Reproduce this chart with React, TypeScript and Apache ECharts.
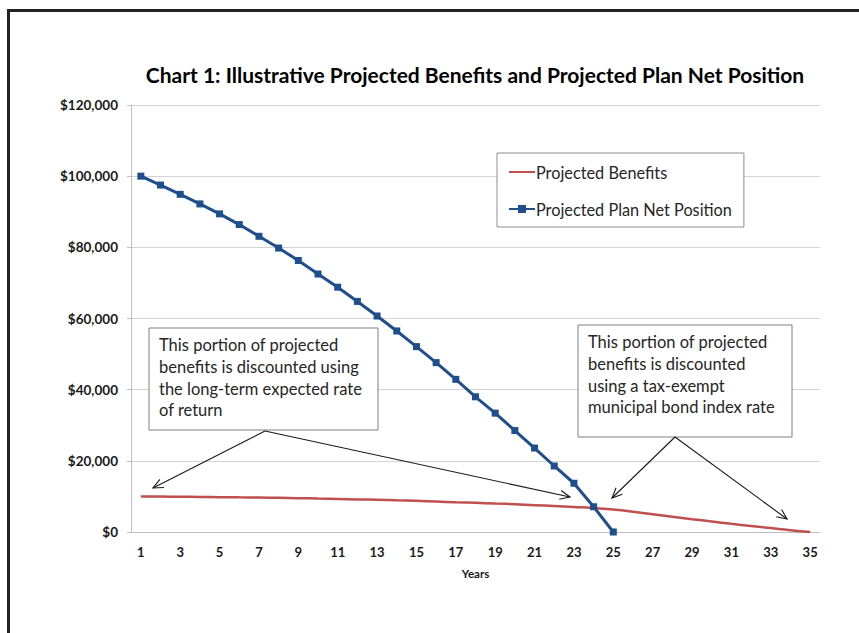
import React, { useEffect, useRef } from "react";
import * as echarts from "echarts";

const years: string[] = Array.from({ length: 35 }, (_, i) => String(i + 1));

const projectedBenefits: number[] = [
  9950, 9950, 9900, 9850, 9800, 9750, 9700, 9600, 9500, 9400,
  9300, 9150, 9050, 8900, 8750, 8550, 8350, 8200, 8000, 7800,
  7550, 7300, 7050, 6750, 6300, 5700, 5000, 4300, 3600, 2950,
  2300, 1700, 1100, 500, 0,
];

const projectedNetPosition: number[] = [
  100000, 97500, 94900, 92200, 89400, 86400, 83100, 79800, 76300, 72500,
  68800, 64800, 60700, 56500, 52100, 47600, 42900, 38000, 33400, 28500,
  23600, 18550, 13700, 7100, 0,
];

const seriesNames: string[] = ["Projected Benefits", "Projected Plan Net Position"];
const titleText = "Chart 1: Illustrative Projected Benefits and Projected Plan Net Position";
const noteLeft: string[] = [
  "This portion of projected",
  "benefits is discounted using",
  "the long-term expected rate",
  "of return",
];
const noteRight: string[] = [
  "This portion of projected",
  "benefits is discounted",
  "using a tax-exempt",
  "municipal bond index rate",
];

const FONT = "Lato, 'Liberation Sans', sans-serif";

function arrow(x1: number, y1: number, x2: number, y2: number): any[] {
  const ang = Math.atan2(y2 - y1, x2 - x1);
  const L = 11;
  const spread = 0.42;
  const p1 = [x2 - L * Math.cos(ang - spread), y2 - L * Math.sin(ang - spread)];
  const p2 = [x2 - L * Math.cos(ang + spread), y2 - L * Math.sin(ang + spread)];
  const st = { stroke: "#1a1a1a", lineWidth: 1.1, fill: "none" };
  return [
    { type: "line", shape: { x1, y1, x2, y2 }, style: st, z: 50 },
    { type: "polyline", shape: { points: [p1, [x2, y2], p2] }, style: st, z: 50 },
  ];
}

function note(x: number, y: number, w: number, h: number, lines: string[]): any[] {
  return [
    {
      type: "rect",
      shape: { x, y, width: w, height: h },
      style: { fill: "#ffffff", stroke: "#7f7f7f", lineWidth: 1 },
      z: 40,
    },
    {
      type: "text",
      x: x + 10,
      y: y + 6,
      z: 41,
      style: {
        text: lines.join("\n"),
        font: `16.5px ${FONT}`,
        fill: "#262626",
        lineHeight: 21.8,
      },
    },
  ];
}

export default function App() {
  const ref = useRef<HTMLDivElement>(null);
  useEffect(() => {
    if (!ref.current) return;
    const chart = echarts.init(ref.current, undefined, { renderer: "svg" });
    chart.setOption({
      animation: false,
      backgroundColor: "#ffffff",
      title: {
        text: titleText,
        left: 470,
        textAlign: "center",
        top: 59,
        textStyle: { fontFamily: FONT, fontSize: 21, fontWeight: "bold", color: "#000" },
      },
      legend: {
        left: 497,
        top: 153,
        orient: "vertical",
        backgroundColor: "#ffffff",
        borderColor: "#8c8c8c",
        borderWidth: 1,
        padding: [11, 12, 10, 11],
        itemGap: 21,
        itemWidth: 26,
        itemHeight: 10,
        data: [
          { name: seriesNames[0], itemStyle: { opacity: 0 } },
          { name: seriesNames[1] },
        ],
        textStyle: { fontFamily: FONT, fontSize: 16.3, color: "#262626", padding: [0, 0, 0, -4] },
        z: 30,
      },
      grid: { left: 131, right: 39, top: 105, bottom: 101, containLabel: false },
      xAxis: {
        type: "category",
        data: years,
        boundaryGap: true,
        name: "Years",
        nameLocation: "middle",
        nameGap: 35,
        nameTextStyle: { fontFamily: FONT, fontSize: 11.5, fontWeight: "bold", color: "#1a1a1a" },
        axisLine: { lineStyle: { color: "#bfbfbf", width: 1 } },
        axisTick: { show: false },
        axisLabel: {
          interval: 1,
          margin: 13,
          fontFamily: FONT,
          fontSize: 13,
          fontWeight: "bold",
          color: "#1a1a1a",
        },
      },
      yAxis: {
        type: "value",
        min: 0,
        max: 120000,
        interval: 20000,
        axisLine: { show: true, lineStyle: { color: "#bfbfbf", width: 1 } },
        axisTick: { show: true, length: 4, lineStyle: { color: "#bfbfbf" } },
        splitLine: { lineStyle: { color: "#d4d4d4", width: 1 } },
        axisLabel: {
          margin: 13,
          fontFamily: FONT,
          fontSize: 13.5,
          fontWeight: "bold",
          color: "#1a1a1a",
          formatter: (v: number) => "$" + v.toLocaleString("en-US"),
        },
      },
      series: [
        {
          name: seriesNames[0],
          type: "line",
          data: projectedBenefits,
          smooth: true,
          symbol: "none",
          lineStyle: { color: "#c0504d", width: 2.5 },
          itemStyle: { color: "#c0504d" },
          z: 3,
        },
        {
          name: seriesNames[1],
          type: "line",
          data: projectedNetPosition,
          symbol: "rect",
          symbolSize: 7,
          lineStyle: { color: "#1f4e8c", width: 3 },
          itemStyle: { color: "#1f4e8c" },
          z: 4,
        },
      ],
      graphic: [
        { type: "line", shape: { x1: 8.5, y1: 10, x2: 8.5, y2: 633 }, style: { stroke: "#222", lineWidth: 3 }, z: 60 },
        { type: "line", shape: { x1: 7, y1: 10.5, x2: 859, y2: 10.5 }, style: { stroke: "#222", lineWidth: 3 }, z: 60 },
        ...note(149, 328, 229, 102, noteLeft),
        ...note(578, 325, 214, 112, noteRight),
        ...arrow(265, 431, 153, 488),
        ...arrow(265, 431, 570, 497),
        ...arrow(675, 437, 612, 498),
        ...arrow(675, 437, 787, 519),
      ],
    });
    return () => chart.dispose();
  }, []);
  return (
    <div
      ref={ref}
      style={{ position: "fixed", left: 0, top: 0, width: 859, height: 633, background: "#fff" }}
    />
  );
}
